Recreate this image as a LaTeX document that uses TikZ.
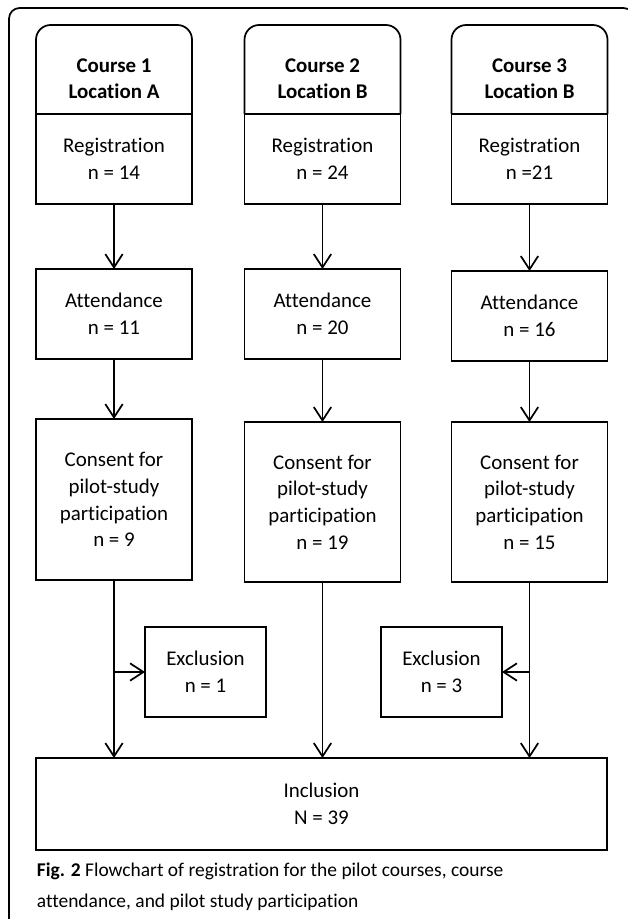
\documentclass[tikz,border=0pt]{standalone}
\usepackage{fontspec}
\setmainfont{Carlito}[Ligatures=NoCommon]
\usetikzlibrary{positioning,arrows.meta}

\begin{document}
\begin{tikzpicture}[x=0.75pt, y=-0.75pt, node distance=1mm, line width=1.3pt,
        >={Straight Barb[length=10pt,width=13pt]},
        flowBox/.style={draw, align=center, outer sep=0pt, minimum width=117pt, minimum height=67.5pt, font=\fontsize{15.7}{20}\selectfont},
        courseHead/.style={align=center, inner sep=0pt, font=\fontsize{15.7}{19}\selectfont\bfseries}]
        \useasboundingbox (0,0) rectangle (627,919);
        \draw[rounded corners=8pt] (9,930) -- (9,8) -- (634,8) -- (634,930);
        \node[flowBox] (registrationOne) at (114,159) {Registration\\n = 14};
        \node[flowBox] (registrationTwo) at (322.5,159) {Registration\\n = 24};
        \node[flowBox] (registrationThree) at (529.5,159) {Registration\\n =21};
        \node[courseHead, above = 11pt of registrationOne] (courseOne) {Course 1\\Location A};
        \node[courseHead, above = 11pt of registrationTwo] (courseTwo) {Course 2\\Location B};
        \node[courseHead, above = 11pt of registrationThree] (courseThree) {Course 3\\Location B};
        \foreach \r in {registrationOne,registrationTwo,registrationThree}
            \draw[rounded corners=11pt] (\r.north west) -- ++(0,-89) -| (\r.north east);
        \node[flowBox, below = 48.75pt of registrationOne] (attendanceOne) {Attendance\\n = 11};
        \node[flowBox, below = 48.75pt of registrationTwo] (attendanceTwo) {Attendance\\n = 20};
        \node[flowBox, below = 50.25pt of registrationThree] (attendanceThree) {Attendance\\n = 16};
        \node[flowBox, minimum height=120.75pt, below = 45pt of attendanceOne] (consentOne) {Consent for\\pilot-study\\participation\\n = 9};
        \node[flowBox, minimum height=120pt, below = 47.25pt of attendanceTwo] (consentTwo) {Consent for\\pilot-study\\participation\\n = 19};
        \node[flowBox, minimum height=120pt, below = 45.75pt of attendanceThree] (consentThree) {Consent for\\pilot-study\\participation\\n = 15};
        \node[flowBox, minimum width=90.75pt] (exclusionOne) at (205.5,672) {Exclusion\\n = 1};
        \node[flowBox, minimum width=90.75pt] (exclusionThree) at (441.5,672) {Exclusion\\n = 3};
        \node[flowBox, minimum width=428.25pt, minimum height=69pt] (inclusion) at (321.5,804) {Inclusion\\N = 39};
        \node[anchor=north west, align=left, inner sep=0pt, font=\fontsize{14.6}{23}\selectfont] (caption) at (36,862) {\textbf{Fig. 2} Flowchart of registration for the pilot courses, course\\attendance, and pilot study participation};
        \draw[->] (registrationOne) -- (attendanceOne);
        \draw[->] (registrationTwo) -- (attendanceTwo);
        \draw[->] (registrationThree) -- (attendanceThree);
        \draw[->] (attendanceOne) -- (consentOne);
        \draw[->] (attendanceTwo) -- (consentTwo);
        \draw[->] (attendanceThree) -- (consentThree);
        \draw[->] (consentOne) -- (consentOne |- inclusion.north);
        \draw[->] (consentTwo) -- (consentTwo |- inclusion.north);
        \draw[->] (consentThree) -- (consentThree |- inclusion.north);
        \draw[->] (consentOne |- exclusionOne) -- (exclusionOne);
        \draw[->] (consentThree |- exclusionThree) -- (exclusionThree);
    \end{tikzpicture}
\end{document}
